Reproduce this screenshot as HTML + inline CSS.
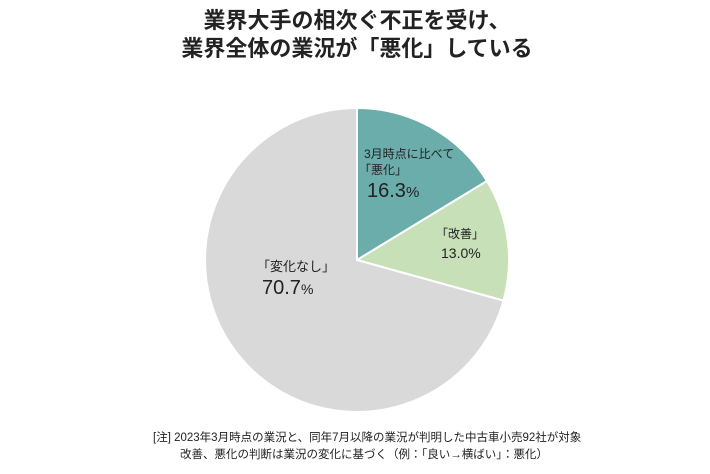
<!DOCTYPE html>
<html><head><meta charset="utf-8"><style>
body{margin:0;width:710px;height:474px;background:#fff;overflow:hidden;font-family:"Liberation Sans","Noto Sans CJK JP",sans-serif;color:#222}
</style></head><body>
<svg width="710" height="474" viewBox="0 0 710 474" xmlns="http://www.w3.org/2000/svg" style="position:absolute;left:0;top:0">
<g font-family="'Liberation Sans','Noto Sans CJK JP',sans-serif">
<text x="357" y="28" text-anchor="middle" font-size="22" font-weight="bold" fill="#222">業界大手の相次ぐ不正を受け、</text>
<text x="357" y="56" text-anchor="middle" font-size="22" font-weight="bold" fill="#222">業界全体の業況が「悪化」している</text>
<path d="M357,260 L357,108 A152,152 0 0 1 487,181 Z" fill="#6aadab" stroke="#fff" stroke-width="2"/>
<path d="M357,260 L487,181 A152,152 0 0 1 503.5,300.6 Z" fill="#c7e0b8" stroke="#fff" stroke-width="2"/>
<path d="M357,260 L503.5,300.6 A152,152 0 1 1 357,108 Z" fill="#d9d9d9" stroke="#fff" stroke-width="2"/>
<text x="364" y="158" font-size="12" fill="#222">3月時点に比べて</text>
<text x="359" y="174" font-size="12" fill="#222">「悪化」</text>
<text x="367" y="197" font-size="20" fill="#222">16.3<tspan font-size="15">%</tspan></text>
<text x="436" y="238" font-size="12" fill="#222">「改善」</text>
<text x="441" y="258" font-size="14" fill="#222">13.0%</text>
<text x="257" y="271" font-size="13" fill="#222">「変化なし」</text>
<text x="262" y="294" font-size="20" fill="#222">70.7<tspan font-size="14">%</tspan></text>
<text x="153" y="441" font-size="11.5" fill="#222">[注] 2023年3月時点の業況と、同年7月以降の業況が判明した中古車小売92社が対象</text>
<text x="180" y="458" font-size="11.5" fill="#222">改善、悪化の判断は業況の変化に基づく（例：「良い→横ばい」：悪化）</text>
</g>
</svg>
</body></html>
